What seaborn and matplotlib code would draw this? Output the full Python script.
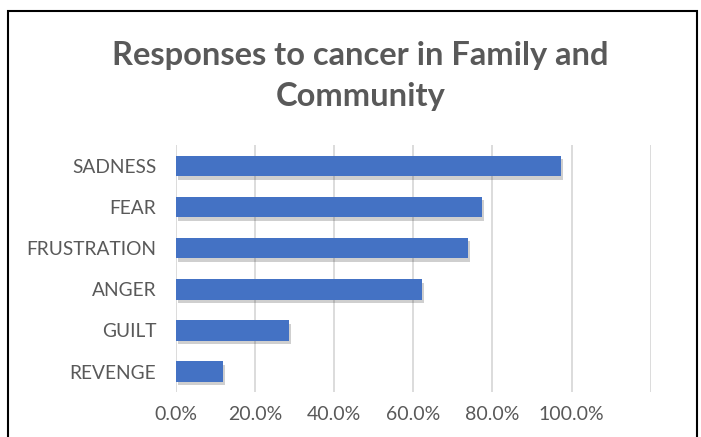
import matplotlib.pyplot as plt
import matplotlib.patches as mpatches
import matplotlib.patheffects as pe
import pandas as pd
import seaborn as sns

# values (share of respondents)
responses = ["SADNESS", "FEAR", "FRUSTRATION", "ANGER", "GUILT", "REVENGE"]
share = [0.973, 0.773, 0.739, 0.623, 0.286, 0.120]
tick_vals = [0.0, 0.2, 0.4, 0.6, 0.8, 1.0, 1.2]
tick_labels = ["0.0%", "20.0%", "40.0%", "60.0%", "80.0%", "100.0%", ""]

df = pd.DataFrame({"response": responses, "share": share})

sns.set_style("white")
plt.rcParams["font.family"] = ["Lato", "DejaVu Sans"]
grey = "#595959"

fig = plt.figure(figsize=(7.01, 4.37), dpi=100)
ax = fig.add_axes([0.2505, 0.1025, 0.678, 0.565])

sns.barplot(data=df, x="share", y="response", orient="h", color="#4472C4",
            saturation=1, width=0.5, linewidth=0, ax=ax, zorder=3)
# soft drop shadow like the Excel bars
for bar in ax.patches:
    bar.set_path_effects([pe.SimplePatchShadow(offset=(1.5, -2.5), alpha=0.25,
                                               shadow_rgbFace="#404040"), pe.Normal()])

ax.set_xlim(0, 1.2)
ax.set_xticks(tick_vals)
ax.set_xticklabels(tick_labels, fontsize=14, color=grey)
ax.tick_params(axis="y", labelsize=13.8, labelcolor=grey, length=0, pad=14)
ax.tick_params(axis="x", length=0, pad=10)
ax.xaxis.grid(True, color="#D9D9D9", linewidth=1.3, zorder=0)
ax.set_axisbelow(True)
ax.set_xlabel("")
ax.set_ylabel("")
sns.despine(ax=ax, left=True, bottom=True)

fig.text(0.514, 0.826, "Responses to cancer in Family and\nCommunity", ha="center",
         va="center", fontsize=23.5, fontweight="bold", color=grey, linespacing=1.47)

# chart frame (bottom edge is cut off in the reference)
fig.patches.append(mpatches.Rectangle((8 / 701, -0.05), 689 / 701, 1.05 - 11 / 437,
                                      transform=fig.transFigure, fill=False,
                                      edgecolor="black", linewidth=1.5))

plt.savefig("out.png", dpi=100)
